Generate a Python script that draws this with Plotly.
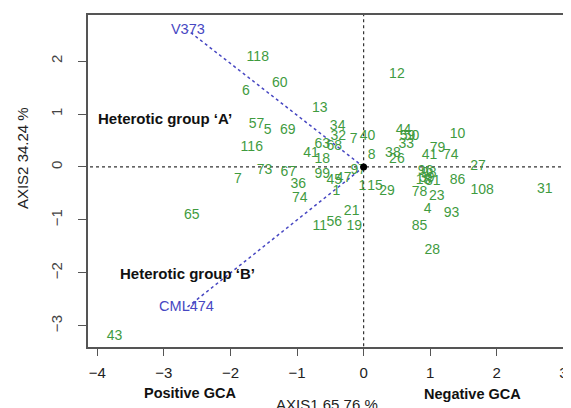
import plotly.graph_objects as go

# Genotype scores (AXIS1, AXIS2)
genotype_labels = ["118", "60", "6", "12", "13", "57", "5", "69", "34", "32", "7", "40",
                   "63", "68", "41", "18", "8", "116", "73", "67", "7", "36", "74", "99",
                   "45", "47", "97", "1", "1", "15", "29", "44", "59", "50", "33", "38",
                   "26", "10", "79", "41", "74", "27", "96", "98", "39", "18", "81", "78",
                   "23", "86", "108", "31", "4", "93", "85", "28", "21", "56", "11", "19",
                   "65", "43"]
axis1 = [-1.59, -1.26, -1.77, 0.50, -0.66, -1.61, -1.44, -1.14, -0.39, -0.38, -0.15, 0.06,
         -0.62, -0.44, -0.79, -0.62, 0.12, -1.68, -1.49, -1.13, -1.89, -0.98, -0.96, -0.62,
         -0.44, -0.30, -0.08, -0.41, -0.02, 0.17, 0.35, 0.60, 0.66, 0.72, 0.64, 0.44,
         0.50, 1.41, 1.11, 0.99, 1.31, 1.72, 0.93, 0.98, 0.95, 0.90, 1.04, 0.84,
         1.10, 1.41, 1.78, 2.72, 0.96, 1.32, 0.84, 1.03, -0.18, -0.44, -0.66, -0.14,
         -2.58, -3.74]
axis2 = [2.06, 1.57, 1.43, 1.74, 1.11, 0.81, 0.68, 0.68, 0.77, 0.57, 0.51, 0.57,
         0.42, 0.38, 0.26, 0.15, 0.21, 0.36, -0.07, -0.11, -0.23, -0.33, -0.60, -0.15,
         -0.26, -0.21, -0.06, -0.47, -0.37, -0.36, -0.47, 0.68, 0.57, 0.57, 0.42, 0.26,
         0.14, 0.62, 0.34, 0.22, 0.21, 0.00, -0.09, -0.13, -0.22, -0.26, -0.27, -0.49,
         -0.56, -0.25, -0.45, -0.42, -0.80, -0.88, -1.13, -1.58, -0.85, -1.04, -1.13, -1.13,
         -0.91, -3.21]

# Tester vectors
tester_labels = ["V373", "CML474"]
tester_axis1 = [-2.64, -2.66]
tester_axis2 = [2.58, -2.66]

x_ticks = [-4, -3, -2, -1, 0, 1, 2, 3]
y_ticks = [-3, -2, -1, 0, 1, 2]

green = "#3f9b3f"
blue = "#4747c2"
FONT = "Liberation Sans, Arial"

fig = go.Figure()

# zero reference lines
fig.add_trace(go.Scatter(x=[-4.2, 3.2], y=[0, 0], mode="lines",
                         line=dict(color="#333333", width=1.2, dash="dot"),
                         hoverinfo="skip", showlegend=False))
fig.add_trace(go.Scatter(x=[0, 0], y=[-3.5, 3.0], mode="lines",
                         line=dict(color="#333333", width=1.2, dash="dot"),
                         hoverinfo="skip", showlegend=False))

# tester vectors
for lab, tx, ty in zip(tester_labels, tester_axis1, tester_axis2):
    fig.add_trace(go.Scatter(x=[0, tx], y=[0, ty], mode="lines",
                             line=dict(color=blue, width=1.5, dash="dot"),
                             hoverinfo="skip", showlegend=False))

fig.add_trace(go.Scatter(x=tester_axis1, y=tester_axis2, mode="text", text=tester_labels,
                         textfont=dict(color=blue, size=14.5, family=FONT),
                         showlegend=False))

fig.add_trace(go.Scatter(x=axis1, y=axis2, mode="text", text=genotype_labels,
                         textfont=dict(color=green, size=14, family=FONT),
                         showlegend=False))

# origin dot
fig.add_trace(go.Scatter(x=[0], y=[0], mode="markers",
                         marker=dict(color="black", size=7), showlegend=False))

fig.add_annotation(x=-4.02, y=0.92, text="<b>Heterotic group ‘A’</b>", showarrow=False,
                   xanchor="left", yanchor="middle",
                   font=dict(size=15, color="#111111", family=FONT))
fig.add_annotation(x=-3.69, y=-2.02, text="<b>Heterotic group ‘B’</b>", showarrow=False,
                   xanchor="left", yanchor="middle",
                   font=dict(size=15, color="#111111", family=FONT))

fig.add_annotation(xref="paper", yref="paper", x=0.212, y=-0.139, text="<b>Positive GCA</b>",
                   xanchor="center", yanchor="middle",
                   showarrow=False, font=dict(size=14.5, color="#111111", family=FONT))
fig.add_annotation(xref="paper", yref="paper", x=0.797, y=-0.142, text="<b>Negative GCA</b>",
                   xanchor="center", yanchor="middle",
                   showarrow=False, font=dict(size=14.5, color="#111111", family=FONT))
fig.add_annotation(xref="paper", yref="paper", x=0.496, y=-0.172, text="AXIS1 65.76 %",
                   xanchor="center", yanchor="middle",
                   showarrow=False, font=dict(size=15, color="#222222", family=FONT))
fig.add_annotation(xref="paper", yref="paper", x=-0.137, y=0.569, text="AXIS2 34.24 %",
                   xanchor="center", yanchor="middle",
                   textangle=-90, showarrow=False,
                   font=dict(size=15, color="#222222", family=FONT))

# the page adds an 8px body margin, so the figure is sized to fit the window
fig.update_layout(
    width=563, height=400,
    margin=dict(l=80, r=1, t=7, b=61, autoexpand=False),
    plot_bgcolor="white", paper_bgcolor="white",
    font=dict(family=FONT, color="#222222"),
    xaxis=dict(range=[-4.14, 3.1], tickvals=x_ticks, showgrid=False, zeroline=False,
               automargin=False,
               showline=True, linecolor="#555555", linewidth=1.5, mirror=True,
               ticks="outside", ticklen=7, tickcolor="#555555", tickfont=dict(size=15),
               ticklabelstandoff=4),
    yaxis=dict(range=[-3.40, 2.87], tickvals=y_ticks, showgrid=False, zeroline=False,
               automargin=False,
               showline=True, linecolor="#555555", linewidth=1.5, mirror=True,
               ticks="outside", ticklen=8, tickcolor="#555555", tickangle=-90,
               tickfont=dict(size=15, color="#444444"), ticklabelstandoff=10),
)

fig.write_html("out.html")
